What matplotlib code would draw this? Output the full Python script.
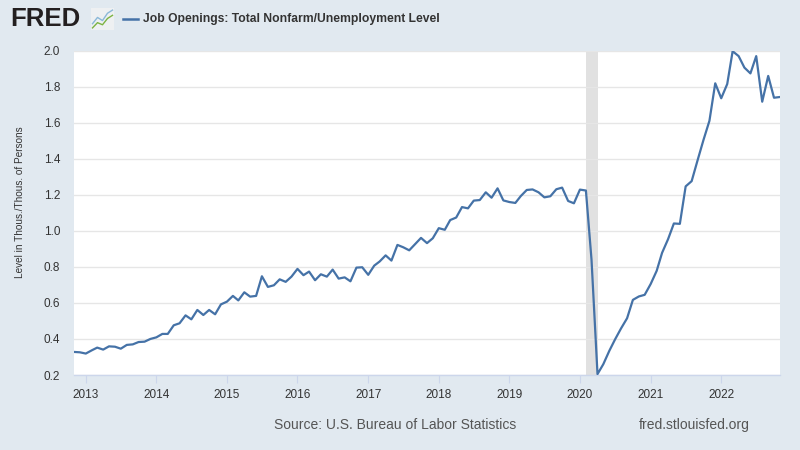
import matplotlib
matplotlib.use("Agg")
import matplotlib.pyplot as plt
import matplotlib.dates as mdates
from matplotlib import font_manager
import pandas as pd
import numpy as np

plt.rcParams['font.family'] = ['Liberation Sans', 'DejaVu Sans']

start_month = "2012-11-01"
ratio = [
    0.328, 0.326, 0.319, 0.337, 0.352, 0.341, 0.359, 0.357, 0.346, 0.367,
    0.370, 0.383, 0.385, 0.400, 0.409, 0.428, 0.428, 0.476, 0.487, 0.531,
    0.509, 0.561, 0.533, 0.561, 0.537, 0.592, 0.607, 0.639, 0.614, 0.659,
    0.635, 0.639, 0.748, 0.689, 0.698, 0.731, 0.717, 0.746, 0.789, 0.754,
    0.774, 0.726, 0.759, 0.746, 0.785, 0.735, 0.742, 0.720, 0.796, 0.798,
    0.756, 0.807, 0.830, 0.864, 0.835, 0.922, 0.909, 0.892, 0.927, 0.961,
    0.932, 0.959, 1.015, 1.006, 1.060, 1.074, 1.132, 1.125, 1.168, 1.171,
    1.214, 1.184, 1.236, 1.169, 1.160, 1.155, 1.193, 1.227, 1.230, 1.214,
    1.186, 1.192, 1.231, 1.240, 1.166, 1.153, 1.229, 1.224, 0.840, 0.205,
    0.260, 0.334, 0.398, 0.459, 0.515, 0.617, 0.636, 0.645, 0.705, 0.778,
    0.878, 0.954, 1.041, 1.039, 1.247, 1.276, 1.393, 1.504, 1.611, 1.819,
    1.736, 1.815, 1.997, 1.970, 1.906, 1.874, 1.970, 1.717, 1.860, 1.739,
    1.743,
]
recession = ("2020-02-01", "2020-04-01")
years = list(range(2013, 2023))
yticks = [0.2, 0.4, 0.6, 0.8, 1.0, 1.2, 1.4, 1.6, 1.8, 2.0]
title = "Job Openings: Total Nonfarm/Unemployment Level"
ylabel = "Level in Thous./Thous. of Persons"
source = "Source: U.S. Bureau of Labor Statistics"
site = "fred.stlouisfed.org"

dates = pd.date_range(start_month, periods=len(ratio), freq="MS")

BG = "#e1e9f0"
LINE = "#4572a7"

installed = {f.name for f in font_manager.fontManager.ttflist}
narrow = "Liberation Sans Narrow" in installed

fig = plt.figure(figsize=(8, 4.5), dpi=100, facecolor=BG)
ax = fig.add_axes([74/800, 1-375/450, (780-74)/800, (375-50.7)/450])
ax.set_facecolor("white")

ax.axvspan(pd.Timestamp(recession[0]), pd.Timestamp(recession[1]), color="#e1e1e1", lw=0, zorder=1)
ax.plot(dates, ratio, color=LINE, lw=1.6, zorder=3, solid_joinstyle="round")

ax.set_xlim(dates[0], dates[-1])
ax.set_ylim(0.2, 2.0)
ax.set_yticks(yticks)
ax.set_yticklabels([f"{v:.1f}" for v in yticks])
ax.set_xticks([pd.Timestamp(f"{y}-01-01") for y in years])
ax.set_xticklabels([str(y) for y in years])

ax.grid(axis="y", color="#e6e6e6", lw=1, zorder=0)
ax.grid(axis="x", visible=False)
for s in ["top", "right", "left"]:
    ax.spines[s].set_visible(False)
ax.spines["bottom"].set_color("#ccd6eb")
ax.spines["bottom"].set_linewidth(1)
ax.tick_params(axis="y", length=0, pad=10, labelsize=8.5, labelcolor="#333333")
ax.tick_params(axis="x", length=6, color="#ccd6eb", pad=4, labelsize=8.5, labelcolor="#333333")

if narrow:
    fig.text(20/800, 1-202/450, ylabel, rotation=90, ha="center", va="center",
             fontsize=9, color="#333333", family=["Liberation Sans Narrow", "Liberation Sans"])
else:
    fig.text(20/800, 1-202/450, ylabel, rotation=90, ha="center", va="center",
             fontsize=7.2, color="#333333")

# Header
fig.text(10/800, 1-19/450, "FRED", fontsize=18.5, fontweight="bold", color="#231f20", ha="left", va="center")
icon = fig.add_axes([91/800, 1-30/450, 23/800, 22/450])
icon.set_facecolor("#eef0f2")
icon.plot([0, 1, 2, 3, 4], [0.3, 0.6, 0.45, 0.8, 0.95], color="#8bb8d8", lw=1)
icon.plot([0, 1, 2, 3, 4], [0.1, 0.35, 0.25, 0.55, 0.7], color="#7cb342", lw=1)
icon.set_xlim(-0.3, 4.3)
icon.set_ylim(0, 1.05)
icon.set_xticks([])
icon.set_yticks([])
for s in icon.spines.values():
    s.set_visible(False)

fig.add_artist(plt.Line2D([123/800, 138/800], [1-19/450, 1-19/450], color=LINE, lw=1.8))
fig.text(143/800, 1-19/450, title, fontsize=8.7, fontweight="bold", color="#333333", ha="left", va="center")

fig.text(395/800, 1-425/450, source, fontsize=10, color="#555555", ha="center", va="center")
fig.text(694/800, 1-425/450, site, fontsize=10, color="#555555", ha="center", va="center")

fig.savefig("out.png", dpi=100, facecolor=BG)
